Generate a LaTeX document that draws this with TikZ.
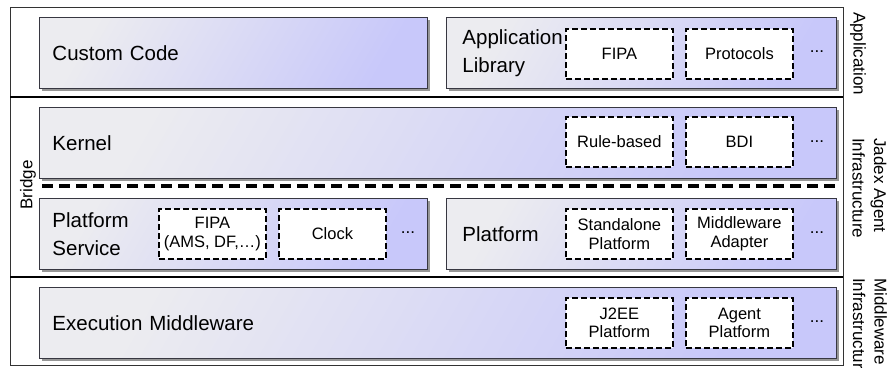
\documentclass[tikz,border=0pt]{standalone}
\usepackage{fontspec}
\setmainfont{Liberation Sans}
\usetikzlibrary{shadows}
\definecolor{boxlight}{RGB}{236,236,240}
\definecolor{boxdark}{RGB}{200,200,250}
\definecolor{shadowgray}{RGB}{150,150,150}
\definecolor{boxborder}{RGB}{55,55,65}
\begin{document}
\begin{tikzpicture}[x=1pt,y=-1pt,
  layer/.style={draw=boxborder,line width=0.9pt,top color=boxlight,bottom color=boxdark,shading angle=60,
    drop shadow={shadow xshift=3pt,shadow yshift=-3pt,fill=shadowgray,opacity=1},
    anchor=north west,minimum height=70.5pt,inner xsep=13pt,align=left,
    font=\fontsize{20.5}{28}\selectfont},
  part/.style={draw=black,fill=white,line width=1.8pt,dash pattern=on 6pt off 3pt,
    anchor=north west,minimum width=107pt,minimum height=50pt,inner sep=0pt,align=center,
    font=\fontsize{16.5}{18.5}\selectfont},
  more/.style={font=\fontsize{17}{19}\selectfont},
  side/.style={rotate=-90,anchor=west,align=left,inner sep=0pt,font=\fontsize{17}{21.5}\selectfont}]
  \useasboundingbox (0,0) rectangle (888,367);
  % frame and layer borders
  \draw[line width=0.8pt,black!80] (10,7) rectangle (843,365);
  \draw[line width=1.6pt] (10,97) -- (843,97);
  \draw[line width=1.6pt] (10,277) -- (843,277);
  % application layer
  \node[layer,text width=362pt] (custom) at (39,17) {Custom Code};
  \node[layer,inner xsep=16pt,text width=358pt] (applib) at (446,17) {Application\\Library};
  \node[part] (fipa) at (565,28) {FIPA};
  \node[part] (protocols) at (685,28) {Protocols};
  \node[more] (appmore) at (817,52) {...};
  % jadex agent infrastructure
  \node[layer,text width=771pt] (kernel) at (39,107) {Kernel};
  \node[part] (rules) at (565,116) {Rule-based};
  \node[part] (bdi) at (685,116) {BDI};
  \node[more] (kernelmore) at (817,142) {...};
  \coordinate (bridgeL) at (42,186);
  \coordinate (bridgeR) at (836,186);
  \draw[line width=4.5pt,dash pattern=on 11pt off 6pt] (bridgeL) -- (bridgeR);
  \node[layer,text width=362pt] (service) at (39,198) {Platform\\Service};
  \node[part] (fipasvc) at (158,208) {FIPA\\(AMS, DF,…)};
  \node[part] (clock) at (278,208) {Clock};
  \node[more] (servicemore) at (408,233) {...};
  \node[layer,inner xsep=16pt,text width=358pt] (platform) at (446,198) {Platform};
  \node[part] (standalone) at (565,208) {Standalone\\Platform};
  \node[part] (adapter) at (685,208) {Middleware\\Adapter};
  \node[more] (platformmore) at (817,233) {...};
  % middleware infrastructure
  \node[layer,text width=771pt] (execmw) at (39,287) {Execution Middleware};
  \node[part] (j2ee) at (565,297) {J2EE\\Platform};
  \node[part] (agentpf) at (685,297) {Agent\\Platform};
  \node[more] (execmore) at (817,322) {...};
  % side labels
  \node[rotate=90,inner sep=0pt,font=\fontsize{17}{19}\selectfont] (bridge) at (28,185) {Bridge};
  \node[side] (lblapp) at (858,12) {Application};
  \node[side] (lbljadex) at (869.5,138) {Jadex Agent\\Infrastructure};
  \node[side] (lblmw) at (870,278) {Middleware\\Infrastructure};
\end{tikzpicture}
\end{document}
